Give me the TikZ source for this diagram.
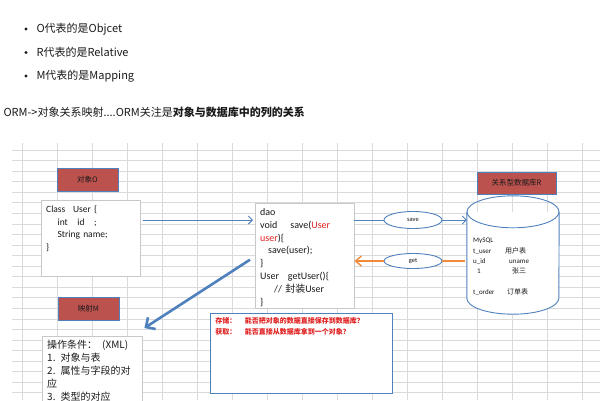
\documentclass[tikz,border=0pt]{standalone}
\usepackage{fontspec}
\setmainfont{Carlito}
\newfontfamily\cjk{Noto Sans CJK SC}
\usetikzlibrary{shapes.geometric,arrows.meta}
\definecolor{azul}{HTML}{4F81BD}
\definecolor{rojo}{HTML}{BB524E}
\definecolor{naranja}{HTML}{F08A3C}
\definecolor{rejilla}{HTML}{DADADA}
\definecolor{borde}{HTML}{C8C8C8}
\definecolor{tinta}{HTML}{1A1A1A}
\definecolor{aviso}{HTML}{E02020}
\newcommand\zh[1]{{\cjk #1}}
\tikzset{tag/.style={draw=azul,fill=rojo,line width=.8pt,minimum width=61pt,minimum height=23pt,inner sep=0,
                     font=\cjk\fontsize{7.5}{8}\selectfont\color{tinta}},
         card/.style={draw=borde,fill=white,anchor=north west,align=left,inner xsep=5pt,inner ysep=4pt,
                      text height=8pt,font=\fontsize{9.5}{12.8}\selectfont\color{tinta}},
         oval/.style={ellipse,draw=azul,fill=white,line width=.9pt,minimum width=58pt,minimum height=17pt,
                      inner sep=0,font=\fontsize{6.5}{7}\selectfont\color{tinta}},
         flow/.style={azul,line width=.9pt,-{Straight Barb[length=4pt,width=8pt]}},
         item/.style={anchor=west,font=\cjk\fontsize{11}{13}\selectfont\color{tinta}}}

\begin{document}
\begin{tikzpicture}[x=1pt,y=-1pt]
  \useasboundingbox[fill=white] (0,0) rectangle (600,400);
  % lista
  \foreach \txt [count=\i] in {O代表的是Objcet,R代表的是Relative,M代表的是Mapping} {
    \fill[tinta] (26,5.5+23.5*\i) circle (1.6);
    \node[item] (item\i) at (33,5.5+23.5*\i) {\txt};
  }
  \node[item] (orm) at (0,112) {ORM->对象关系映射....ORM关注是\textbf{对象与数据库中的列的关系}};
  % hoja de calculo
  \foreach \k in {0,...,23} \draw[rejilla,line width=.6pt] (12,150+10.55*\k) -- (600,150+10.55*\k);
  \foreach \k in {0,...,16} \draw[rejilla,line width=.6pt] (22+35*\k,143) -- (22+35*\k,400);
  % objeto
  \node[tag] (objlbl) at (87.5,179.5) {对象O};
  \node[card,text width=89pt,text depth=60pt] (cls) at (41,200)
    {Class\hspace{.8em}User \{\\\hspace*{1.2em}int\hspace{1em}id\hspace{1em};\\\hspace*{1.2em}String name;\\\}};
  % dao
  \node[card,text width=89pt,text depth=89pt,font=\fontsize{10}{12.9}\selectfont\color{tinta}] (dao) at (255,203)
    {dao\\void\hspace{1.3em}save(\textcolor{aviso}{User}\\\textcolor{aviso}{user})\{\\\hspace*{.8em}save(user);\\\}\\
     User\hspace{.9em}getUser()\{\\\hspace*{1.4em}// \zh{封装}User\\\}};
  % base de datos
  \node[tag,minimum width=79pt,minimum height=22pt] (dblbl) at (516.5,183) {关系型数据库R};
  \node[minimum width=92pt,minimum height=86pt,inner sep=0] (db) at (513,255) {};
  \filldraw[azul,fill=white,line width=.9pt] (db.north west) -- (db.south west)
    arc[start angle=180,end angle=0,x radius=46,y radius=16] -- (db.north east);
  \draw[azul,line width=.9pt] (db.north) ellipse [x radius=46,y radius=16];
  \node[anchor=north west,align=left,inner sep=0,font=\fontsize{7}{10.4}\selectfont\color{tinta}] (dbinfo) at (473,238)
    {MySQL\\\makebox[32pt][l]{t\_user}\zh{用户表}\\\makebox[36pt][l]{u\_id}uname\\
     \makebox[39pt][l]{\hspace*{4pt}1}\zh{张三}\\[10.4pt]\makebox[34pt][l]{t\_order}\zh{订单表}};
  % save / get
  \node[oval] (save) at (413,220) {save};
  \node[oval,minimum height=15pt] (get) at (413,261) {get};
  \draw[flow] ([xshift=3pt]cls.east |- save) -- ([xshift=-2pt]dao.west |- save);
  \draw[azul,line width=.9pt] (dao.east |- save) -- (save.west);
  \draw[flow] (save.east) -- (save.east -| db.west);
  \draw[naranja,line width=1.4pt] ([xshift=-2pt]get.east -| db.west) -- (get.east);
  \draw[naranja,line width=1.4pt,-{Straight Barb[length=6pt,width=10pt]}] (get.west) -- (get.west -| dao.east);
  % mapeo
  \node[tag] (maplbl) at (88.5,308.5) {映射M};
  \node[card,text width=90pt,text depth=60pt,font=\cjk\fontsize{10}{13}\selectfont\color{tinta}] (ops) at (42,336)
    {操作条件：\hspace{.5em}(XML)\\1. 对象与表\\2. 属性与字段的对\\应\\3. 类型的对应};
  \draw[azul,line width=2.6pt,-{Straight Barb[length=7pt,width=14pt]}]
    ([xshift=-5pt,yshift=-4pt]dao.west) -- ([xshift=2pt,yshift=8pt]ops.north east);
  % preguntas
  \node[card,draw=azul,line width=.9pt,text width=172pt,text height=6pt,text depth=66pt,
        font=\cjk\bfseries\fontsize{7}{11}\selectfont\color{aviso}] (note) at (210,313)
    {存储：\hspace{1.2em}能否把对象的数据直接保存到数据库？\\获取：\hspace{1.2em}能否直接从数据库拿到一个对象？};
\end{tikzpicture}
\end{document}
